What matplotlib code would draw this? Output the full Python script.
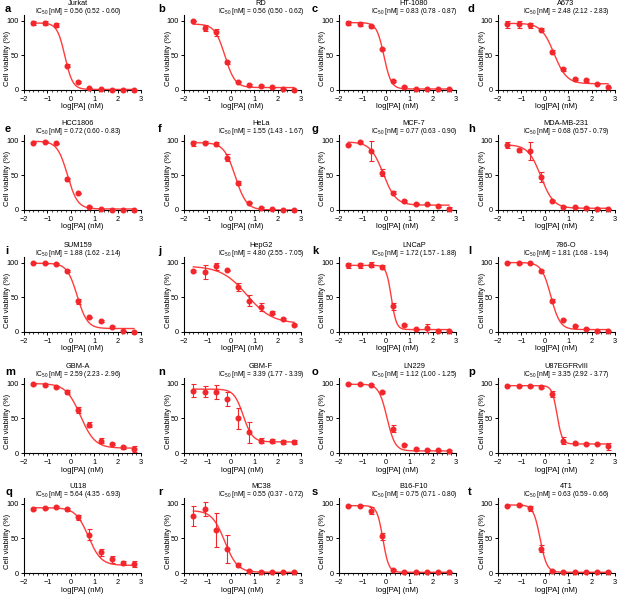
import numpy as np
import matplotlib
matplotlib.use("Agg")
import matplotlib.pyplot as plt
from matplotlib.ticker import MultipleLocator

plt.rcParams['font.family'] = ['Liberation Sans', 'DejaVu Sans']
plt.rcParams['mathtext.fontset'] = 'custom'
plt.rcParams['mathtext.rm'] = 'Liberation Sans'

# ---------------- data ----------------
log_conc = [-1.60, -1.12, -0.64, -0.16, 0.31, 0.79, 1.27, 1.75, 2.22, 2.70]

letters = list("abcdefghijklmnopqrst")
cell_lines = ["Jurkat", "RD", "HT-1080", "A673",
              "HCC1806", "HeLa", "MCF-7", "MDA-MB-231",
              "SUM159", "HepG2", "LNCaP", "786-O",
              "GBM-A", "GBM-F", "LN229", "U87EGFRvIII",
              "U118", "MC38", "B16-F10", "4T1"]
ic50_text = ["0.56 (0.52 - 0.60)", "0.56 (0.50 - 0.62)", "0.83 (0.78 - 0.87)", "2.48 (2.12 - 2.83)",
             "0.72 (0.60 - 0.83)", "1.55 (1.43 - 1.67)", "0.77 (0.63 - 0.90)", "0.68 (0.57 - 0.79)",
             "1.88 (1.62 - 2.14)", "4.80 (2.55 - 7.05)", "1.72 (1.57 - 1.88)", "1.81 (1.68 - 1.94)",
             "2.59 (2.23 - 2.96)", "3.39 (1.77 - 3.39)", "1.12 (1.00 - 1.25)", "3.35 (2.92 - 3.77)",
             "5.64 (4.35 - 6.93)", "0.55 (0.37 - 0.72)", "0.75 (0.71 - 0.80)", "0.63 (0.59 - 0.66)"]

viability = [
    [96, 96, 94, 35, 11.5, 2.4, 1, 0.5, 0.5, 0.5],
    [100, 89, 83, 40, 12, 7, 6, 4, 1.5, 0.5],
    [97, 95, 92, 59, 13, 5, 1.5, 1.5, 1.5, 2],
    [95, 95, 93, 87, 55, 30, 16, 14, 9, 4],
    [97, 98, 96, 44, 24, 5, 1, 0, 0, 0],
    [96, 97, 95, 75, 39, 10.5, 3, 1, 0.5, 0.5],
    [94, 98, 85, 54, 25, 13, 9, 8, 6, 2],
    [94, 86, 85, 48, 13, 5, 4, 3, 1, 1],
    [100, 99, 98, 88, 44, 21, 16, 7, 1, 0],
    [88, 87, 95, 89, 65, 45, 36, 28, 19, 10],
    [96, 96, 97, 94, 37, 10, 4, 6, 2, 1],
    [100, 99, 99, 88, 45, 18, 9, 5, 2, 2],
    [99, 98, 95, 88, 62, 41, 18, 13, 8, 6],
    [90, 88, 88, 78, 50, 30, 18, 17, 16, 16],
    [100, 99, 98, 88, 35, 12, 6, 5, 4, 3],
    [97, 97, 96, 95, 85, 18, 14, 13, 13, 10],
    [92, 93, 95, 92, 80, 55, 30, 20, 15, 13],
    [82, 92, 62, 35, 12, 3, 2, 1, 1, 1],
    [97, 97, 90, 53, 5, 1, 1, 1, 1, 1],
    [97, 98, 93, 35, 3, 1, 1, 1, 1, 1],
]
errors = [
    [3, 3, 3, 2, 1, 1, 0, 0, 0, 0],
    [0, 4, 5, 2, 1, 1, 1, 1, 0, 0],
    [3, 3, 2, 2, 1, 1, 0, 0, 0, 0],
    [5, 5, 4, 2, 2, 2, 1, 2, 1, 1],
    [1, 1, 1, 2, 1, 1, 0, 0, 0, 0],
    [4, 2, 3, 5, 3, 1, 1, 0, 0, 0],
    [1, 1, 15, 5, 2, 1, 1, 1, 1, 2],
    [4, 2, 13, 7, 2, 1, 1, 1, 0, 0],
    [1, 1, 1, 1, 3, 1, 1, 1, 0, 0],
    [1, 10, 5, 1, 6, 8, 6, 2, 1, 1],
    [4, 4, 4, 3, 5, 1, 1, 6, 1, 0],
    [1, 1, 1, 1, 2, 1, 1, 1, 0, 0],
    [1, 1, 2, 3, 4, 4, 3, 2, 2, 4],
    [10, 8, 10, 10, 15, 15, 4, 3, 3, 3],
    [1, 1, 1, 2, 5, 1, 1, 1, 1, 1],
    [1, 1, 1, 1, 5, 5, 2, 2, 2, 5],
    [1, 1, 2, 2, 3, 8, 5, 5, 3, 4],
    [15, 10, 25, 20, 3, 1, 1, 0, 0, 0],
    [1, 1, 5, 5, 1, 0, 0, 0, 0, 0],
    [1, 1, 3, 5, 1, 0, 0, 0, 0, 0],
]
# 4-parameter logistic fit parameters
fit_top = [96.5, 95, 97, 96, 99, 97, 98, 94, 99, 95, 96, 100, 100, 92, 99, 97, 94, 90, 97, 98]
fit_bottom = [0.8, 3.5, 1.5, 9, 1.5, 0, 7, 2.5, 5, 12, 3.5, 3.5, 7, 16, 3, 13, 11, 1, 1, 1]
fit_hill = [2.6, 2.0, 2.8, 1.6, 2.0, 1.8, 1.6, 1.6, 2.0, 0.8, 4.0, 2.2, 1.4, 2.2, 2.5, 4.0, 1.6, 1.6, 3.5, 3.0]
fit_ic50 = [0.56, 0.56, 0.83, 2.48, 0.72, 1.55, 0.77, 0.68, 1.88, 4.80, 1.72, 1.81,
            2.59, 3.39, 1.12, 3.35, 5.64, 0.55, 0.75, 0.63]

# ---------------- layout ----------------
W, H = 618, 600
fig = plt.figure(figsize=(W / 100, H / 100), dpi=100)
col_left = [24, 184, 339, 498]
title_cx = [78, 261, 414, 566]
row_zero = [90, 210, 332, 453, 573]
ax_w, ax_h = 117, 75
YMAX = 108
red = '#f2262b'
curve_red = '#ff3c3c'
PX = 0.72  # points per pixel at dpi 100

xs = np.linspace(min(log_conc), max(log_conc), 300)
for i in range(20):
    r, c = divmod(i, 4)
    ax = fig.add_axes([col_left[c] / W, (H - row_zero[r]) / H, ax_w / W, ax_h / H])
    t, b, h, lic = fit_top[i], fit_bottom[i], fit_hill[i], np.log10(fit_ic50[i])
    ys = b + (t - b) / (1 + 10 ** ((xs - lic) * h))
    ax.plot(xs, ys, color=curve_red, lw=1.0, zorder=2)
    ax.errorbar(log_conc, viability[i], yerr=errors[i], fmt='o', color=red, ms=3.3,
                elinewidth=0.8, capsize=1.8, capthick=0.8, clip_on=False, zorder=3)
    ax.set_xlim(-2, 3)
    ax.set_ylim(0, YMAX)
    ax.set_xticks([-2, -1, 0, 1, 2, 3])
    ax.set_yticks([0, 50, 100])
    ax.xaxis.set_minor_locator(MultipleLocator(0.2))
    ax.spines['top'].set_visible(False)
    ax.spines['right'].set_visible(False)
    for s in ['left', 'bottom']:
        ax.spines[s].set_linewidth(0.8)
    ax.tick_params(axis='both', which='major', labelsize=5.3, length=2.5, width=0.7, pad=1.5)
    ax.tick_params(axis='x', which='minor', length=1.5, width=0.5)
    ax.set_xlabel('log[PA] (nM)', fontsize=5.6)
    ax.set_ylabel('Cell viability (%)', fontsize=5.6)
    ax.xaxis.set_label_coords(0.5, -17 / ax_h)
    ax.yaxis.set_label_coords(-16 / ax_w, 45 / YMAX)
    ax.xaxis.label.set_va('center')
    ax.yaxis.label.set_va('center')

    tcx = (title_cx[c] - col_left[c]) / ax_w
    ax.annotate('IC$_{\\mathregular{50}}$ [nM] = ' + ic50_text[i], xy=(tcx, 1.0),
                xycoords='axes fraction', xytext=(0, 3.5 * PX), textcoords='offset points',
                ha='center', va='center', fontsize=4.8, annotation_clip=False)
    ax.annotate(cell_lines[i], xy=(tcx, 1.0), xycoords='axes fraction',
                xytext=(0, 11.5 * PX), textcoords='offset points',
                ha='center', va='center', fontsize=5.3, annotation_clip=False)
    lx = [5, 158, 312, 468][c]
    ly = row_zero[r] - 81
    fig.text(lx / W, 1 - ly / H, letters[i], fontsize=8, fontweight='bold', ha='left', va='center')

fig.savefig('out.png', dpi=100)
